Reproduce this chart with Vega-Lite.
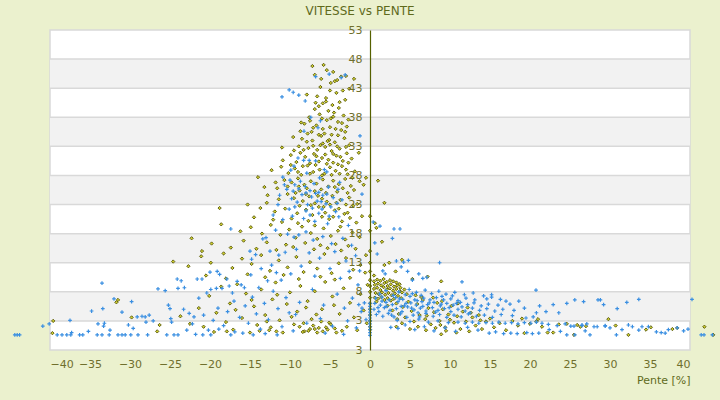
{
  "$schema": "https://vega.github.io/schema/vega-lite/v6.json",
  "width": 640,
  "height": 320,
  "autosize": {"type": "none"},
  "padding": {"left": 50, "top": 30, "right": 30, "bottom": 50},
  "background": "#ebf1ce",
  "title": {"text": "VITESSE vs PENTE", "font": "DejaVu Sans", "fontSize": 12, "fontWeight": "normal", "color": "#5f6a1c", "dx": -10, "offset": 6},
  "config": {
    "view": {"fill": "#ffffff", "stroke": "#d9d9d9", "strokeWidth": 1.5},
    "axis": {"labelFont": "DejaVu Sans", "titleFont": "DejaVu Sans", "labelColor": "#6f6f2c", "titleColor": "#5f6a1c", "labelFontSize": 11, "titleFontSize": 11, "titleFontWeight": "normal", "ticks": false, "grid": false}
  },
  "datasets": {
    "bandes": [{"v": 5.5}, {"v": 15.5}, {"v": 25.5}, {"v": 35.5}, {"v": 45.5}],
    "lignes": [{"v": 3}, {"v": 8}, {"v": 13}, {"v": 18}, {"v": 23}, {"v": 28}, {"v": 33}, {"v": 38}, {"v": 43}, {"v": 48}],
    "jaune": [
      {"p": -7.2, "v": 46.8}, {"p": -5.8, "v": 47.0}, {"p": -5.4, "v": 46.1}, {"p": -6.9, "v": 45.3}, {"p": -3.6, "v": 45.0}, {"p": -3.0, "v": 45.1}, {"p": -2.0, "v": 44.6}, {"p": -4.4, "v": 44.2}, {"p": -4.9, "v": 43.9}, {"p": -4.1, "v": 44.4},
      {"p": -6.2, "v": 43.2}, {"p": -3.4, "v": 42.6}, {"p": -2.6, "v": 42.9}, {"p": -7.9, "v": 41.9}, {"p": -6.6, "v": 41.6}, {"p": -5.5, "v": 41.3}, {"p": -4.2, "v": 42.2}, {"p": -3.1, "v": 41.0}, {"p": -5.9, "v": 40.4}, {"p": -4.7, "v": 40.1}, {"p": -6.4, "v": 39.9}, {"p": -3.8, "v": 40.6},
      {"p": -6.9, "v": 39.4}, {"p": -5.2, "v": 39.1}, {"p": -4.5, "v": 38.8}, {"p": -3.3, "v": 38.3}, {"p": -7.6, "v": 38.0}, {"p": -6.0, "v": 37.8}, {"p": -5.4, "v": 37.5}, {"p": -4.0, "v": 37.2}, {"p": -2.7, "v": 37.6}, {"p": -8.2, "v": 36.9}, {"p": -6.7, "v": 36.6}, {"p": -5.0, "v": 36.3}, {"p": -4.3, "v": 36.0}, {"p": -3.6, "v": 35.8}, {"p": -7.3, "v": 35.5}, {"p": -5.7, "v": 35.2}, {"p": -4.8, "v": 35.0}, {"p": -2.9, "v": 36.4}, {"p": -6.3, "v": 38.5}, {"p": -3.9, "v": 39.6}, {"p": -5.5, "v": 40.7}, {"p": -4.6, "v": 38.1},
      {"p": -9.6, "v": 34.6}, {"p": -8.5, "v": 34.3}, {"p": -7.2, "v": 34.0}, {"p": -6.1, "v": 34.8}, {"p": -5.1, "v": 34.1}, {"p": -4.4, "v": 33.7}, {"p": -3.2, "v": 34.4}, {"p": -2.6, "v": 33.2}, {"p": -8.9, "v": 33.0}, {"p": -7.7, "v": 32.7}, {"p": -6.6, "v": 32.4}, {"p": -5.6, "v": 32.9}, {"p": -4.8, "v": 32.2}, {"p": -3.8, "v": 32.6}, {"p": -2.9, "v": 31.8}, {"p": -9.9, "v": 31.5}, {"p": -8.1, "v": 31.2}, {"p": -7.0, "v": 31.7}, {"p": -6.0, "v": 31.0}, {"p": -5.2, "v": 30.7}, {"p": -4.2, "v": 31.4}, {"p": -3.4, "v": 30.5}, {"p": -2.3, "v": 30.9}, {"p": -9.2, "v": 30.3}, {"p": -7.5, "v": 30.1}, {"p": -6.4, "v": 30.4}, {"p": -4.6, "v": 30.2}, {"p": -5.9, "v": 33.5}, {"p": -4.0, "v": 34.9}, {"p": -7.9, "v": 33.8}, {"p": -1.4, "v": 31.9}, {"p": -11.0, "v": 32.8},
      {"p": -14.0, "v": 27.7}, {"p": -12.3, "v": 28.9}, {"p": -11.1, "v": 29.5}, {"p": -10.2, "v": 28.4}, {"p": -9.4, "v": 29.2}, {"p": -8.6, "v": 28.1}, {"p": -7.8, "v": 29.7}, {"p": -7.1, "v": 28.6}, {"p": -6.3, "v": 29.0}, {"p": -5.7, "v": 28.3}, {"p": -5.0, "v": 29.4}, {"p": -4.3, "v": 28.8}, {"p": -3.5, "v": 29.6}, {"p": -2.8, "v": 28.2}, {"p": -1.9, "v": 28.7}, {"p": -10.7, "v": 27.2}, {"p": -9.8, "v": 26.8}, {"p": -9.0, "v": 27.5}, {"p": -8.2, "v": 26.4}, {"p": -7.4, "v": 27.0}, {"p": -6.7, "v": 26.6}, {"p": -5.9, "v": 27.3}, {"p": -5.2, "v": 26.1}, {"p": -4.6, "v": 27.1}, {"p": -3.9, "v": 26.5}, {"p": -3.1, "v": 27.4}, {"p": -2.4, "v": 26.2}, {"p": -1.3, "v": 27.0}, {"p": -11.6, "v": 25.8}, {"p": -8.8, "v": 25.4}, {"p": -6.1, "v": 25.6}, {"p": -4.1, "v": 25.2}, {"p": -2.0, "v": 25.5}, {"p": -0.8, "v": 26.4}, {"p": -13.2, "v": 26.0},
      {"p": -12.8, "v": 24.6}, {"p": -11.4, "v": 23.9}, {"p": -10.3, "v": 24.8}, {"p": -9.5, "v": 24.1}, {"p": -8.4, "v": 23.6}, {"p": -7.6, "v": 24.4}, {"p": -6.9, "v": 23.2}, {"p": -6.0, "v": 24.0}, {"p": -5.4, "v": 23.5}, {"p": -4.7, "v": 24.5}, {"p": -3.7, "v": 23.8}, {"p": -2.6, "v": 24.2}, {"p": -1.6, "v": 23.1}, {"p": -13.7, "v": 22.4}, {"p": -18.8, "v": 22.4}, {"p": -15.3, "v": 23.0}, {"p": -11.9, "v": 21.8}, {"p": -10.6, "v": 22.3}, {"p": -9.1, "v": 21.5}, {"p": -8.0, "v": 22.1}, {"p": -7.2, "v": 21.2}, {"p": -6.4, "v": 22.6}, {"p": -5.6, "v": 21.6}, {"p": -4.4, "v": 22.0}, {"p": -3.2, "v": 21.4}, {"p": -2.1, "v": 22.8}, {"p": -1.0, "v": 21.0}, {"p": -14.5, "v": 20.8}, {"p": -12.1, "v": 20.4}, {"p": -9.8, "v": 20.6}, {"p": -7.7, "v": 20.2}, {"p": -5.1, "v": 20.5}, {"p": -3.5, "v": 20.1}, {"p": -2.5, "v": 20.7},
      {"p": -8.6, "v": 37.1}, {"p": -7.1, "v": 36.2}, {"p": -5.9, "v": 36.0}, {"p": -4.9, "v": 37.8}, {"p": -3.5, "v": 37.0}, {"p": -7.8, "v": 35.2}, {"p": -6.4, "v": 35.0}, {"p": -5.3, "v": 33.9}, {"p": -3.1, "v": 35.5}, {"p": -8.3, "v": 32.4}, {"p": -7.1, "v": 33.1}, {"p": -6.2, "v": 33.2}, {"p": -5.0, "v": 33.3}, {"p": -4.1, "v": 33.0}, {"p": -3.0, "v": 32.9}, {"p": -8.7, "v": 31.9}, {"p": -6.7, "v": 31.3}, {"p": -5.6, "v": 31.6}, {"p": -4.6, "v": 31.7}, {"p": -3.7, "v": 31.2}, {"p": -2.7, "v": 30.2}, {"p": -8.4, "v": 29.6}, {"p": -6.8, "v": 29.8}, {"p": -5.4, "v": 30.0}, {"p": -4.0, "v": 29.9}, {"p": -3.0, "v": 29.0}, {"p": -9.9, "v": 29.8}, {"p": -9.0, "v": 28.6}, {"p": -7.5, "v": 28.3}, {"p": -6.0, "v": 28.0}, {"p": -4.8, "v": 28.1}, {"p": -3.8, "v": 28.3}, {"p": -2.2, "v": 27.6}, {"p": -10.3, "v": 26.1}, {"p": -8.9, "v": 26.1}, {"p": -7.9, "v": 25.8}, {"p": -6.9, "v": 25.3}, {"p": -5.5, "v": 25.0}, {"p": -4.4, "v": 26.0}, {"p": -3.4, "v": 25.8}, {"p": -2.8, "v": 25.0}, {"p": -9.3, "v": 25.0}, {"p": -8.0, "v": 24.8}, {"p": -6.5, "v": 24.5}, {"p": -5.0, "v": 23.0}, {"p": -4.2, "v": 23.3}, {"p": -3.0, "v": 23.0}, {"p": -8.8, "v": 22.8}, {"p": -7.4, "v": 22.9}, {"p": -5.8, "v": 22.6}, {"p": -3.9, "v": 22.3}, {"p": -2.8, "v": 21.6}, {"p": -6.0, "v": 20.9}, {"p": -4.6, "v": 20.9}, {"p": -9.0, "v": 19.8}, {"p": -6.9, "v": 19.4}, {"p": -3.7, "v": 19.2}, {"p": -1.7, "v": 19.9}, {"p": -11.0, "v": 20.0}, {"p": -12.9, "v": 23.3}, {"p": -11.8, "v": 26.8}, {"p": -10.9, "v": 30.6}, {"p": -9.5, "v": 32.3}, {"p": -8.7, "v": 35.6}, {"p": -7.5, "v": 37.4}, {"p": -6.8, "v": 40.5}, {"p": -5.0, "v": 42.6}, {"p": -6.1, "v": 44.6}, {"p": -4.6, "v": 45.8},
      {"p": -18.6, "v": 19.6}, {"p": -16.2, "v": 18.4}, {"p": -14.9, "v": 19.1}, {"p": -13.5, "v": 18.0}, {"p": -12.4, "v": 19.5}, {"p": -11.2, "v": 17.8}, {"p": -10.1, "v": 18.7}, {"p": -9.3, "v": 17.3}, {"p": -8.5, "v": 19.2}, {"p": -7.4, "v": 18.1}, {"p": -6.6, "v": 17.1}, {"p": -5.8, "v": 18.9}, {"p": -4.9, "v": 17.6}, {"p": -4.0, "v": 18.5}, {"p": -3.1, "v": 17.0}, {"p": -2.2, "v": 18.2}, {"p": -1.3, "v": 17.4}, {"p": -19.8, "v": 16.3}, {"p": -17.4, "v": 15.6}, {"p": -15.8, "v": 16.8}, {"p": -14.2, "v": 15.4}, {"p": -12.9, "v": 16.5}, {"p": -11.7, "v": 15.2}, {"p": -10.5, "v": 16.1}, {"p": -9.6, "v": 15.7}, {"p": -8.1, "v": 16.4}, {"p": -7.0, "v": 15.3}, {"p": -6.2, "v": 16.0}, {"p": -5.3, "v": 15.5}, {"p": -4.3, "v": 16.2}, {"p": -3.6, "v": 15.1}, {"p": -2.7, "v": 15.9}, {"p": -1.8, "v": 15.4}, {"p": -22.3, "v": 17.2}, {"p": -21.0, "v": 15.0},
      {"p": -24.6, "v": 13.2}, {"p": -22.7, "v": 12.4}, {"p": -21.1, "v": 14.1}, {"p": -19.9, "v": 13.0}, {"p": -18.3, "v": 14.6}, {"p": -17.2, "v": 12.1}, {"p": -16.0, "v": 13.7}, {"p": -14.8, "v": 12.8}, {"p": -13.6, "v": 14.3}, {"p": -12.5, "v": 11.6}, {"p": -11.4, "v": 13.4}, {"p": -10.3, "v": 12.2}, {"p": -9.2, "v": 14.0}, {"p": -8.3, "v": 11.4}, {"p": -7.5, "v": 13.1}, {"p": -6.6, "v": 12.0}, {"p": -5.7, "v": 14.5}, {"p": -4.8, "v": 11.2}, {"p": -3.9, "v": 12.9}, {"p": -3.0, "v": 13.8}, {"p": -2.1, "v": 11.8}, {"p": -1.2, "v": 12.6}, {"p": -20.5, "v": 10.8}, {"p": -18.0, "v": 10.3}, {"p": -15.3, "v": 11.0}, {"p": -13.1, "v": 10.5}, {"p": -10.8, "v": 10.9}, {"p": -8.9, "v": 10.2}, {"p": -6.2, "v": 10.6}, {"p": -4.4, "v": 10.1}, {"p": -2.5, "v": 10.4}, {"p": -0.6, "v": 11.3},
      {"p": -39.6, "v": 3.0}, {"p": -39.7, "v": 0.9}, {"p": -31.7, "v": 6.2}, {"p": -31.5, "v": 6.6}, {"p": -29.8, "v": 3.6}, {"p": -26.6, "v": 1.2}, {"p": -26.3, "v": 2.3}, {"p": -23.7, "v": 3.8}, {"p": -22.5, "v": 2.5}, {"p": -21.4, "v": 5.2}, {"p": -20.8, "v": 2.0}, {"p": -20.1, "v": 7.3}, {"p": -19.5, "v": 1.1}, {"p": -19.2, "v": 4.4}, {"p": -18.6, "v": 8.9}, {"p": -18.0, "v": 2.8}, {"p": -17.5, "v": 6.0}, {"p": -17.1, "v": 1.5}, {"p": -16.6, "v": 9.3}, {"p": -16.0, "v": 3.5}, {"p": -15.5, "v": 7.7}, {"p": -15.0, "v": 1.0}, {"p": -14.5, "v": 5.5}, {"p": -14.1, "v": 2.3}, {"p": -13.6, "v": 8.4}, {"p": -13.1, "v": 4.0}, {"p": -12.6, "v": 1.4}, {"p": -12.2, "v": 6.7}, {"p": -11.8, "v": 9.6}, {"p": -11.3, "v": 3.1}, {"p": -10.9, "v": 1.0}, {"p": -10.4, "v": 5.9}, {"p": -10.0, "v": 7.9}, {"p": -9.5, "v": 2.4}, {"p": -9.1, "v": 4.6}, {"p": -8.7, "v": 9.0}, {"p": -8.2, "v": 1.2}, {"p": -7.8, "v": 6.4}, {"p": -7.3, "v": 3.3}, {"p": -6.9, "v": 8.1}, {"p": -6.4, "v": 1.8}, {"p": -6.0, "v": 5.0}, {"p": -5.6, "v": 9.7}, {"p": -5.1, "v": 2.7}, {"p": -4.7, "v": 7.2}, {"p": -4.2, "v": 1.0}, {"p": -3.8, "v": 4.2}, {"p": -3.3, "v": 8.6}, {"p": -2.9, "v": 2.0}, {"p": -2.5, "v": 6.1}, {"p": -2.0, "v": 3.6}, {"p": -1.6, "v": 1.4}, {"p": -1.2, "v": 7.6}, {"p": -0.8, "v": 4.8}, {"p": -0.4, "v": 2.6}, {"p": -14.8, "v": 6.6}, {"p": -11.6, "v": 7.5}, {"p": -8.0, "v": 5.3}, {"p": -6.7, "v": 4.1}, {"p": -4.5, "v": 5.7}, {"p": -9.8, "v": 3.7}, {"p": -12.9, "v": 2.9}, {"p": -16.8, "v": 4.9}, {"p": -17.9, "v": 1.2}, {"p": -7.5, "v": 1.6}, {"p": -3.5, "v": 1.3}, {"p": -5.3, "v": 1.5},
      {"p": -8.8, "v": 2.0}, {"p": -8.3, "v": 2.6}, {"p": -7.7, "v": 1.3}, {"p": -7.1, "v": 2.2}, {"p": -6.6, "v": 1.0}, {"p": -6.1, "v": 2.9}, {"p": -5.5, "v": 1.9}, {"p": -4.9, "v": 2.4}, {"p": -4.4, "v": 1.7}, {"p": -8.4, "v": 1.1}, {"p": -5.9, "v": 1.2}, {"p": -6.9, "v": 1.6}, {"p": -13.8, "v": 1.3}, {"p": -12.4, "v": 1.9}, {"p": -11.7, "v": 1.2},
      {"p": 0, "v": 21.0}, {"p": 0, "v": 18.5}, {"p": 0, "v": 15.0}, {"p": 0, "v": 13.0}, {"p": 0, "v": 11.5}, {"p": 0, "v": 10.0}, {"p": 0, "v": 9.0}, {"p": 0, "v": 8.0}, {"p": 0, "v": 7.0}, {"p": 0, "v": 6.0}, {"p": 0, "v": 5.0}, {"p": 0, "v": 4.0}, {"p": 0, "v": 3.0}, {"p": 0, "v": 2.0}, {"p": 0, "v": 1.5}, {"p": -0.3, "v": 9.2}, {"p": -0.5, "v": 14.3}, {"p": -0.5, "v": 27.6}, {"p": 1.0, "v": 27.1}, {"p": 1.8, "v": 23.3},
      {"p": 0.5, "v": 9.8}, {"p": 0.9, "v": 10.1}, {"p": 1.3, "v": 9.9}, {"p": 1.7, "v": 10.2}, {"p": 2.1, "v": 9.7}, {"p": 2.5, "v": 10.0}, {"p": 2.9, "v": 9.8}, {"p": 3.3, "v": 9.6}, {"p": 3.7, "v": 9.3},
      {"p": 0.6, "v": 9.2}, {"p": 1.0, "v": 9.4}, {"p": 1.4, "v": 9.1}, {"p": 1.8, "v": 9.5}, {"p": 2.2, "v": 9.0}, {"p": 2.6, "v": 9.3}, {"p": 3.0, "v": 8.9}, {"p": 3.4, "v": 9.1}, {"p": 3.8, "v": 8.7},
      {"p": 0.5, "v": 8.5}, {"p": 0.9, "v": 8.7}, {"p": 1.3, "v": 8.3}, {"p": 1.7, "v": 8.8}, {"p": 2.1, "v": 8.4}, {"p": 2.5, "v": 8.6}, {"p": 2.9, "v": 8.2}, {"p": 3.3, "v": 8.5}, {"p": 3.7, "v": 8.1},
      {"p": 0.7, "v": 7.8}, {"p": 1.1, "v": 7.6}, {"p": 1.5, "v": 7.9}, {"p": 1.9, "v": 7.5}, {"p": 2.3, "v": 7.8}, {"p": 2.7, "v": 7.4}, {"p": 3.1, "v": 7.7}, {"p": 3.5, "v": 7.3}, {"p": 4.0, "v": 7.9},
      {"p": 0.6, "v": 7.0}, {"p": 1.0, "v": 6.8}, {"p": 1.4, "v": 7.1}, {"p": 1.8, "v": 6.6}, {"p": 2.2, "v": 6.9}, {"p": 2.6, "v": 6.5}, {"p": 3.0, "v": 6.8}, {"p": 0.8, "v": 6.3}, {"p": 4.3, "v": 8.4}, {"p": 4.6, "v": 7.6},
      {"p": 2.2, "v": 5.6}, {"p": 2.8, "v": 4.8}, {"p": 3.3, "v": 6.0}, {"p": 3.6, "v": 4.2}, {"p": 4.1, "v": 5.4}, {"p": 4.4, "v": 3.6}, {"p": 4.8, "v": 6.3}, {"p": 5.2, "v": 4.7}, {"p": 5.5, "v": 2.9}, {"p": 5.9, "v": 5.9}, {"p": 6.2, "v": 4.0}, {"p": 6.6, "v": 6.6}, {"p": 6.9, "v": 3.3}, {"p": 7.3, "v": 5.2}, {"p": 7.6, "v": 2.4}, {"p": 8.0, "v": 4.5}, {"p": 8.4, "v": 6.1}, {"p": 8.7, "v": 3.0}, {"p": 9.1, "v": 5.0}, {"p": 9.4, "v": 1.9}, {"p": 9.8, "v": 4.1}, {"p": 10.2, "v": 5.6}, {"p": 10.5, "v": 2.7}, {"p": 10.9, "v": 3.8}, {"p": 11.3, "v": 1.6}, {"p": 11.6, "v": 4.6}, {"p": 12.0, "v": 2.9}, {"p": 12.4, "v": 1.2}, {"p": 12.8, "v": 3.6}, {"p": 13.2, "v": 2.2}, {"p": 13.6, "v": 4.0}, {"p": 14.0, "v": 1.6}, {"p": 14.5, "v": 2.9}, {"p": 15.0, "v": 3.4}, {"p": 15.5, "v": 1.9}, {"p": 4.0, "v": 2.6}, {"p": 5.0, "v": 1.6}, {"p": 6.0, "v": 2.0}, {"p": 7.0, "v": 1.4}, {"p": 8.2, "v": 1.8}, {"p": 9.5, "v": 1.3}, {"p": 10.8, "v": 1.0}, {"p": 3.4, "v": 3.3}, {"p": 6.4, "v": 7.1}, {"p": 7.9, "v": 7.0}, {"p": 9.0, "v": 6.4}, {"p": 11.0, "v": 6.0}, {"p": 12.2, "v": 5.3}, {"p": 5.7, "v": 7.4}, {"p": 3.9, "v": 6.9}, {"p": 10.0, "v": 3.2}, {"p": 8.8, "v": 2.3}, {"p": 7.1, "v": 3.9}, {"p": 12.6, "v": 4.4}, {"p": 13.8, "v": 3.1}, {"p": 3.3, "v": 2.0}, {"p": 8.9, "v": 0.7},
      {"p": 16.2, "v": 2.6}, {"p": 17.0, "v": 1.4}, {"p": 17.8, "v": 3.0}, {"p": 18.5, "v": 2.2}, {"p": 19.3, "v": 0.9}, {"p": 20.0, "v": 2.5}, {"p": 20.8, "v": 2.9}, {"p": 21.5, "v": 2.0}, {"p": 22.2, "v": 1.0}, {"p": 22.9, "v": 1.0}, {"p": 23.6, "v": 2.4}, {"p": 24.6, "v": 2.5}, {"p": 25.5, "v": 0.6}, {"p": 26.3, "v": 2.0}, {"p": 27.0, "v": 2.1}, {"p": 29.8, "v": 3.3}, {"p": 30.7, "v": 2.2}, {"p": 32.3, "v": 0.6}, {"p": 34.5, "v": 1.5}, {"p": 35.1, "v": 1.9}, {"p": 37.8, "v": 1.6}, {"p": 38.4, "v": 1.8}, {"p": 41.8, "v": 2.0}, {"p": 42.9, "v": 0.6}, {"p": 19.0, "v": 3.4}, {"p": 21.0, "v": 3.3}, {"p": 25.9, "v": 2.3},
      {"p": 1.8, "v": 12.6}, {"p": 2.4, "v": 13.0}, {"p": 4.0, "v": 13.5}, {"p": 3.2, "v": 11.5}, {"p": 7.2, "v": 10.6}, {"p": 8.9, "v": 9.8}, {"p": 5.3, "v": 10.2}, {"p": 0.6, "v": 19.8}, {"p": 0.8, "v": 19.0}, {"p": 1.5, "v": 16.6}, {"p": 0.5, "v": 10.8}
    ],
    "bleu": [
      {"p": -44.4, "v": 0.6}, {"p": -44.1, "v": 0.6}, {"p": -43.8, "v": 0.6}, {"p": -40.9, "v": 2.1}, {"p": -40.1, "v": 2.5}, {"p": -39.1, "v": 0.6}, {"p": -38.5, "v": 0.6}, {"p": -37.9, "v": 0.6}, {"p": -37.4, "v": 0.6}, {"p": -37.3, "v": 1.0}, {"p": -37.5, "v": 3.1}, {"p": -36.3, "v": 0.6}, {"p": -35.9, "v": 0.6}, {"p": -34.1, "v": 0.6}, {"p": -33.5, "v": 0.6}, {"p": -32.6, "v": 0.6}, {"p": -31.5, "v": 0.6}, {"p": -31.0, "v": 0.6}, {"p": -30.6, "v": 0.6}, {"p": -29.9, "v": 0.6}, {"p": -29.0, "v": 0.6}, {"p": -27.8, "v": 0.6}, {"p": -25.4, "v": 0.6}, {"p": -24.5, "v": 0.6}, {"p": -24.0, "v": 0.6}, {"p": -34.8, "v": 4.7}, {"p": -33.5, "v": 9.5}, {"p": -33.4, "v": 5.1}, {"p": -32.0, "v": 6.8}, {"p": -34.0, "v": 2.5}, {"p": -33.3, "v": 2.1}, {"p": -33.2, "v": 2.6}, {"p": -31.0, "v": 4.5}, {"p": -30.2, "v": 2.3}, {"p": -29.8, "v": 6.3}, {"p": -29.6, "v": 1.7}, {"p": -29.1, "v": 3.7}, {"p": -28.5, "v": 3.8}, {"p": -28.1, "v": 3.7}, {"p": -27.6, "v": 4.0}, {"p": -28.0, "v": 2.8}, {"p": -27.1, "v": 3.0}, {"p": -26.5, "v": 8.5}, {"p": -25.6, "v": 8.2}, {"p": -25.2, "v": 5.7}, {"p": -25.0, "v": 5.1}, {"p": -24.9, "v": 3.4}, {"p": -24.8, "v": 2.8}, {"p": -35.2, "v": 1.2}, {"p": -32.5, "v": 1.4},
      {"p": -24.1, "v": 10.2}, {"p": -23.6, "v": 9.9}, {"p": -24.0, "v": 8.6}, {"p": -23.2, "v": 8.7}, {"p": -21.6, "v": 10.2}, {"p": -21.0, "v": 10.2}, {"p": -20.0, "v": 11.4}, {"p": -19.1, "v": 11.5}, {"p": -18.8, "v": 11.0}, {"p": -17.4, "v": 18.8}, {"p": -17.9, "v": 10.2}, {"p": -17.6, "v": 9.0}, {"p": -17.2, "v": 7.8}, {"p": -17.0, "v": 6.4}, {"p": -16.6, "v": 9.8}, {"p": -16.1, "v": 9.2}, {"p": -15.7, "v": 8.7}, {"p": -15.0, "v": 15.0}, {"p": -14.8, "v": 13.6}, {"p": -14.3, "v": 14.4}, {"p": -13.4, "v": 17.1}, {"p": -13.0, "v": 17.3}, {"p": -12.5, "v": 15.0}, {"p": -11.4, "v": 14.3}, {"p": -10.6, "v": 14.8}, {"p": -12.3, "v": 12.6}, {"p": -11.7, "v": 11.3}, {"p": -11.1, "v": 10.0}, {"p": -9.5, "v": 17.4}, {"p": -8.9, "v": 17.8}, {"p": -23.3, "v": 5.0}, {"p": -22.6, "v": 4.3}, {"p": -22.0, "v": 3.7}, {"p": -22.2, "v": 2.5}, {"p": -21.4, "v": 6.9}, {"p": -20.4, "v": 7.8}, {"p": -19.9, "v": 8.4}, {"p": -19.2, "v": 8.6}, {"p": -18.5, "v": 8.6}, {"p": -20.8, "v": 4.0}, {"p": -20.2, "v": 1.4}, {"p": -19.6, "v": 3.1}, {"p": -19.0, "v": 5.2}, {"p": -18.3, "v": 2.2}, {"p": -17.8, "v": 4.6}, {"p": -16.9, "v": 1.1}, {"p": -16.3, "v": 3.6}, {"p": -15.6, "v": 5.6}, {"p": -15.2, "v": 2.6}, {"p": -14.7, "v": 7.1}, {"p": -14.2, "v": 4.2}, {"p": -13.7, "v": 1.6}, {"p": -13.2, "v": 6.0}, {"p": -12.7, "v": 3.2}, {"p": -12.1, "v": 8.1}, {"p": -11.5, "v": 5.1}, {"p": -11.0, "v": 2.0}, {"p": -10.5, "v": 7.0}, {"p": -10.1, "v": 4.4}, {"p": -21.8, "v": 0.7}, {"p": -20.9, "v": 0.6}, {"p": -19.9, "v": 0.6}, {"p": -18.9, "v": 1.6}, {"p": -17.4, "v": 0.6}, {"p": -15.9, "v": 0.9}, {"p": -14.6, "v": 0.6}, {"p": -13.1, "v": 0.8}, {"p": -11.6, "v": 0.6}, {"p": -22.9, "v": 1.4},
      {"p": -10.1, "v": 42.7}, {"p": -9.6, "v": 42.3}, {"p": -8.9, "v": 41.8}, {"p": -11.0, "v": 41.5}, {"p": -8.1, "v": 40.8}, {"p": -6.8, "v": 45.0}, {"p": -5.1, "v": 45.4}, {"p": -3.6, "v": 44.8}, {"p": -3.1, "v": 45.3}, {"p": -1.25, "v": 34.8}, {"p": -1.0, "v": 24.8}, {"p": -6.5, "v": 36.2}, {"p": -8.25, "v": 35.6}, {"p": -7.4, "v": 38.0}, {"p": -6.2, "v": 37.4}, {"p": -9.0, "v": 31.0}, {"p": -8.3, "v": 30.6}, {"p": -9.5, "v": 29.6}, {"p": -7.6, "v": 30.6}, {"p": -6.8, "v": 30.5}, {"p": -5.7, "v": 29.0}, {"p": -5.4, "v": 28.6}, {"p": -10.9, "v": 27.7}, {"p": -10.0, "v": 27.2}, {"p": -9.4, "v": 26.4}, {"p": -8.7, "v": 27.0}, {"p": -8.1, "v": 26.1}, {"p": -7.5, "v": 25.4}, {"p": -7.0, "v": 26.6}, {"p": -6.4, "v": 25.1}, {"p": -5.9, "v": 24.6}, {"p": -5.2, "v": 26.0}, {"p": -4.6, "v": 24.2}, {"p": -4.0, "v": 25.6}, {"p": -3.5, "v": 23.8}, {"p": -9.8, "v": 24.0}, {"p": -9.1, "v": 23.4}, {"p": -8.5, "v": 24.7}, {"p": -7.8, "v": 23.0}, {"p": -7.2, "v": 22.4}, {"p": -6.6, "v": 23.6}, {"p": -6.0, "v": 22.2}, {"p": -5.5, "v": 23.1}, {"p": -4.9, "v": 22.6}, {"p": -4.3, "v": 21.8}, {"p": -10.4, "v": 25.6}, {"p": -11.5, "v": 23.0}, {"p": -12.1, "v": 21.2}, {"p": -10.9, "v": 20.4}, {"p": -9.7, "v": 21.0}, {"p": -8.3, "v": 20.6}, {"p": -6.9, "v": 20.1}, {"p": -5.3, "v": 19.7}, {"p": -3.9, "v": 20.9}, {"p": -2.7, "v": 19.4}, {"p": -11.8, "v": 18.6}, {"p": -10.3, "v": 17.9}, {"p": -8.0, "v": 18.3}, {"p": -7.1, "v": 16.9}, {"p": -5.9, "v": 17.5}, {"p": -4.8, "v": 16.3}, {"p": -3.4, "v": 17.2}, {"p": -2.3, "v": 16.0}, {"p": -9.2, "v": 15.3}, {"p": -7.6, "v": 14.7}, {"p": -6.3, "v": 13.8}, {"p": -4.4, "v": 14.9}, {"p": -3.0, "v": 13.3}, {"p": -1.8, "v": 14.2}, {"p": -8.6, "v": 12.4}, {"p": -5.0, "v": 12.0}, {"p": -2.6, "v": 11.5}, {"p": -9.9, "v": 11.1}, {"p": -6.9, "v": 10.7}, {"p": -3.7, "v": 10.3}, {"p": -1.5, "v": 9.2}, {"p": -7.2, "v": 8.4}, {"p": -4.1, "v": 7.6}, {"p": -2.2, "v": 6.9}, {"p": -8.8, "v": 6.2}, {"p": -5.8, "v": 5.7}, {"p": -3.2, "v": 5.2}, {"p": -1.1, "v": 4.6}, {"p": -9.3, "v": 4.1}, {"p": -6.2, "v": 3.4}, {"p": -2.8, "v": 3.0}, {"p": -7.9, "v": 2.6}, {"p": -4.7, "v": 2.1}, {"p": -1.7, "v": 1.8}, {"p": -9.6, "v": 1.3}, {"p": -5.6, "v": 0.9}, {"p": -3.3, "v": 0.7}, {"p": -0.7, "v": 6.1}, {"p": -0.5, "v": 3.2}, {"p": -1.3, "v": 11.6}, {"p": -13.6, "v": 12.0}, {"p": -14.9, "v": 10.9}, {"p": -13.9, "v": 8.7}, {"p": -12.8, "v": 9.9}, {"p": -1.0, "v": 5.2}, {"p": -1.4, "v": 5.8},
      {"p": -10.7, "v": 26.4}, {"p": -9.6, "v": 25.3}, {"p": -8.9, "v": 25.7}, {"p": -8.0, "v": 25.0}, {"p": -7.3, "v": 24.3}, {"p": -6.8, "v": 24.9}, {"p": -6.1, "v": 23.5}, {"p": -5.4, "v": 24.8}, {"p": -9.4, "v": 22.6}, {"p": -8.0, "v": 21.9}, {"p": -7.5, "v": 21.2}, {"p": -6.4, "v": 21.5}, {"p": -5.1, "v": 21.0}, {"p": -10.1, "v": 22.2}, {"p": -11.3, "v": 24.6}, {"p": -4.1, "v": 23.2}, {"p": -3.8, "v": 26.8}, {"p": -9.9, "v": 28.9}, {"p": -7.9, "v": 28.4}, {"p": -6.3, "v": 27.6},
      {"p": 0, "v": 6.0}, {"p": 0, "v": 5.5}, {"p": 0, "v": 5.0}, {"p": 0, "v": 4.5}, {"p": 0, "v": 4.0}, {"p": 0, "v": 3.5}, {"p": 0, "v": 3.0}, {"p": 0, "v": 2.5}, {"p": 0, "v": 2.0}, {"p": 0, "v": 1.5}, {"p": 0, "v": 1.0}, {"p": 0, "v": 0.5},
      {"p": 0.4, "v": 20.0}, {"p": 1.25, "v": 19.3}, {"p": 3.0, "v": 18.8}, {"p": 3.75, "v": 18.8}, {"p": 2.8, "v": 17.2}, {"p": 0.6, "v": 16.4}, {"p": 0.9, "v": 14.5}, {"p": 3.3, "v": 13.3}, {"p": 4.8, "v": 13.4}, {"p": 8.7, "v": 13.0}, {"p": 4.7, "v": 11.5}, {"p": 6.1, "v": 11.1}, {"p": 6.6, "v": 10.3}, {"p": 7.1, "v": 10.5}, {"p": 11.5, "v": 9.7}, {"p": 1.9, "v": 11.1}, {"p": 3.9, "v": 12.3}, {"p": 1.6, "v": 11.6}, {"p": 5.3, "v": 10.0}, {"p": 4.2, "v": 13.1},
      {"p": 2.0, "v": 8.2}, {"p": 3.6, "v": 8.0}, {"p": 4.9, "v": 8.4}, {"p": 5.8, "v": 7.9}, {"p": 6.9, "v": 8.3}, {"p": 7.7, "v": 7.7}, {"p": 8.6, "v": 8.1}, {"p": 9.5, "v": 7.6}, {"p": 10.6, "v": 7.9}, {"p": 11.8, "v": 7.5}, {"p": 12.9, "v": 7.8}, {"p": 14.2, "v": 7.3}, {"p": 1.2, "v": 7.6}, {"p": 2.9, "v": 7.4},
      {"p": 0.7, "v": 6.9}, {"p": 1.5, "v": 7.1}, {"p": 2.4, "v": 6.6}, {"p": 3.2, "v": 7.0}, {"p": 4.1, "v": 6.7}, {"p": 5.0, "v": 7.2}, {"p": 5.9, "v": 6.5}, {"p": 6.7, "v": 6.9}, {"p": 7.5, "v": 6.6}, {"p": 8.3, "v": 7.0}, {"p": 9.2, "v": 6.6}, {"p": 10.1, "v": 6.8}, {"p": 11.0, "v": 6.5}, {"p": 12.0, "v": 6.9}, {"p": 13.1, "v": 6.6}, {"p": 14.6, "v": 6.8}, {"p": 15.2, "v": 7.5}, {"p": 15.2, "v": 7.1}, {"p": 16.3, "v": 6.7}, {"p": 17.0, "v": 6.4},
      {"p": 0.6, "v": 6.0}, {"p": 1.3, "v": 5.7}, {"p": 2.0, "v": 6.2}, {"p": 2.8, "v": 5.8}, {"p": 3.5, "v": 6.3}, {"p": 4.3, "v": 5.6}, {"p": 5.1, "v": 6.1}, {"p": 5.8, "v": 5.7}, {"p": 6.5, "v": 6.3}, {"p": 7.2, "v": 5.8}, {"p": 8.0, "v": 6.2}, {"p": 8.8, "v": 5.6}, {"p": 9.6, "v": 6.0}, {"p": 10.4, "v": 5.7}, {"p": 11.3, "v": 6.2}, {"p": 12.2, "v": 5.8}, {"p": 13.0, "v": 6.1}, {"p": 13.9, "v": 5.6}, {"p": 14.8, "v": 5.9}, {"p": 16.0, "v": 5.7}, {"p": 17.5, "v": 5.9}, {"p": 18.6, "v": 6.4}, {"p": 19.3, "v": 5.2},
      {"p": 0.5, "v": 5.0}, {"p": 1.1, "v": 4.6}, {"p": 1.8, "v": 5.3}, {"p": 2.5, "v": 4.8}, {"p": 3.3, "v": 5.1}, {"p": 4.0, "v": 4.6}, {"p": 4.7, "v": 5.4}, {"p": 5.5, "v": 4.9}, {"p": 6.3, "v": 5.2}, {"p": 7.0, "v": 4.7}, {"p": 7.8, "v": 5.3}, {"p": 8.5, "v": 4.8}, {"p": 9.3, "v": 5.1}, {"p": 10.1, "v": 4.6}, {"p": 11.0, "v": 5.0}, {"p": 11.9, "v": 4.7}, {"p": 12.8, "v": 5.2}, {"p": 13.7, "v": 4.8}, {"p": 14.6, "v": 5.1}, {"p": 15.6, "v": 4.7}, {"p": 16.6, "v": 5.0}, {"p": 18.0, "v": 4.8}, {"p": 20.8, "v": 4.4}, {"p": 22.0, "v": 4.6},
      {"p": 0.8, "v": 4.1}, {"p": 1.6, "v": 3.8}, {"p": 2.3, "v": 4.3}, {"p": 3.0, "v": 3.7}, {"p": 3.8, "v": 4.2}, {"p": 4.6, "v": 3.6}, {"p": 5.4, "v": 4.0}, {"p": 6.2, "v": 3.7}, {"p": 7.0, "v": 4.3}, {"p": 7.9, "v": 3.8}, {"p": 8.7, "v": 4.1}, {"p": 9.6, "v": 3.6}, {"p": 10.5, "v": 4.0}, {"p": 11.4, "v": 3.7}, {"p": 12.3, "v": 4.2}, {"p": 13.3, "v": 3.8}, {"p": 14.3, "v": 4.0}, {"p": 15.3, "v": 3.6}, {"p": 16.4, "v": 4.1}, {"p": 17.8, "v": 3.9}, {"p": 19.5, "v": 3.5},
      {"p": 3.4, "v": 3.1}, {"p": 5.0, "v": 2.9}, {"p": 6.1, "v": 3.3}, {"p": 7.3, "v": 2.8}, {"p": 8.5, "v": 3.0}, {"p": 9.8, "v": 2.7}, {"p": 11.0, "v": 2.8}, {"p": 11.9, "v": 2.6}, {"p": 12.8, "v": 2.8}, {"p": 13.6, "v": 2.6}, {"p": 14.5, "v": 2.7}, {"p": 15.3, "v": 2.6}, {"p": 16.1, "v": 2.8}, {"p": 16.9, "v": 2.6}, {"p": 17.7, "v": 2.7}, {"p": 18.5, "v": 2.5}, {"p": 19.3, "v": 2.7}, {"p": 20.1, "v": 2.6}, {"p": 20.8, "v": 2.8}, {"p": 21.5, "v": 2.6}, {"p": 22.3, "v": 2.4}, {"p": 23.4, "v": 2.2}, {"p": 24.4, "v": 2.5}, {"p": 25.5, "v": 2.1}, {"p": 26.5, "v": 2.2}, {"p": 27.1, "v": 2.5}, {"p": 28.4, "v": 2.0}, {"p": 29.4, "v": 2.1},
      {"p": 2.6, "v": 1.9}, {"p": 3.5, "v": 1.7}, {"p": 4.4, "v": 2.3}, {"p": 5.6, "v": 1.5}, {"p": 6.8, "v": 2.0}, {"p": 8.0, "v": 1.3}, {"p": 9.4, "v": 1.8}, {"p": 10.7, "v": 1.2}, {"p": 12.2, "v": 1.9}, {"p": 13.5, "v": 1.4}, {"p": 14.9, "v": 0.9}, {"p": 15.7, "v": 1.1}, {"p": 16.7, "v": 0.8}, {"p": 17.6, "v": 0.9}, {"p": 18.4, "v": 0.8}, {"p": 19.6, "v": 1.0}, {"p": 20.3, "v": 0.8}, {"p": 21.1, "v": 0.9}, {"p": 22.4, "v": 1.5}, {"p": 23.8, "v": 1.2}, {"p": 25.6, "v": 0.6}, {"p": 27.5, "v": 0.6},
      {"p": 3.9, "v": 5.5}, {"p": 4.5, "v": 6.0}, {"p": 5.2, "v": 5.2}, {"p": 5.6, "v": 6.6}, {"p": 6.0, "v": 4.4}, {"p": 6.6, "v": 5.5}, {"p": 7.4, "v": 6.1}, {"p": 8.2, "v": 4.5}, {"p": 8.9, "v": 5.9}, {"p": 9.9, "v": 5.3}, {"p": 10.8, "v": 6.0}, {"p": 11.5, "v": 5.4}, {"p": 12.5, "v": 4.4}, {"p": 2.1, "v": 5.5}, {"p": 1.0, "v": 5.3}, {"p": 1.5, "v": 6.4}, {"p": 2.7, "v": 4.0}, {"p": 3.7, "v": 6.8}, {"p": 4.4, "v": 7.5}, {"p": 9.0, "v": 7.2}, {"p": 10.3, "v": 7.3}, {"p": 6.4, "v": 7.4}, {"p": 5.3, "v": 7.7},
      {"p": 20.75, "v": 8.3}, {"p": 25.6, "v": 6.6}, {"p": 26.7, "v": 6.3}, {"p": 28.5, "v": 6.6}, {"p": 28.8, "v": 6.6}, {"p": 29.2, "v": 5.8}, {"p": 30.9, "v": 5.1}, {"p": 32.1, "v": 6.2}, {"p": 33.6, "v": 6.7}, {"p": 40.25, "v": 6.7}, {"p": 22.9, "v": 5.8}, {"p": 24.6, "v": 6.0}, {"p": 23.6, "v": 4.4}, {"p": 21.2, "v": 5.6}, {"p": 20.4, "v": 3.7},
      {"p": 39.75, "v": 1.6}, {"p": 39.2, "v": 1.3}, {"p": 36.9, "v": 0.9}, {"p": 36.4, "v": 1.0}, {"p": 35.8, "v": 1.1}, {"p": 37.3, "v": 1.5}, {"p": 34.8, "v": 2.0}, {"p": 34.0, "v": 2.0}, {"p": 32.3, "v": 2.3}, {"p": 32.8, "v": 2.0}, {"p": 30.8, "v": 0.6}, {"p": 31.5, "v": 1.5}, {"p": 29.4, "v": 2.2}, {"p": 28.0, "v": 2.0}, {"p": 26.5, "v": 2.3}, {"p": 25.1, "v": 2.1}, {"p": 41.4, "v": 0.6}, {"p": 41.75, "v": 0.6}, {"p": 42.8, "v": 0.6}, {"p": 24.6, "v": 0.6}, {"p": 33.6, "v": 1.4}, {"p": 38.4, "v": 1.8}, {"p": 26.9, "v": 1.3}, {"p": 30.0, "v": 1.8}
    ]
  },
  "encoding": {
    "y": {
      "field": "v", "type": "quantitative",
      "scale": {"domain": [-2, 53], "nice": false, "zero": false},
      "axis": {"values": [-2, 3, 8, 13, 18, 23, 28, 33, 38, 43, 48, 53], "labelExpr": "datum.value == -2 ? '3' : datum.label", "offset": -320, "zindex": 1, "domain": true, "domainColor": "#556000", "domainWidth": 1.2, "labelPadding": 8, "title": null}
    }
  },
  "layer": [
    {
      "data": {"name": "bandes"},
      "mark": {"type": "rule", "color": "#f2f2f2", "strokeWidth": 29.1, "strokeCap": "butt"},
      "encoding": {}
    },
    {
      "data": {"name": "lignes"},
      "mark": {"type": "rule", "color": "#d9d9d9", "strokeWidth": 1.5},
      "encoding": {}
    },
    {
      "data": {"name": "jaune"},
      "mark": {"type": "point", "shape": "diamond", "size": 11, "filled": true, "fill": "#cfcf30", "stroke": "#565608", "strokeWidth": 0.9, "opacity": 1},
      "encoding": {
        "x": {
          "field": "p", "type": "quantitative",
          "scale": {"domain": [-40, 40], "nice": false, "zero": false},
          "axis": {"values": [-40, -35, -30, -25, -20, -15, -10, -5, 0, 5, 10, 15, 20, 25, 30, 35, 40], "domain": false, "labelPadding": 8, "title": "Pente [%]", "titleAnchor": "end", "titlePadding": 5}
        }
      }
    },
    {
      "data": {"name": "bleu"},
      "mark": {"type": "point", "shape": "M-1,0H1M0,-1V1", "size": 14, "filled": false, "stroke": "#3a8fe2", "strokeWidth": 1.2, "opacity": 1},
      "encoding": {
        "x": {
          "field": "p", "type": "quantitative",
          "scale": {"domain": [-40, 40], "nice": false, "zero": false},
          "axis": {"values": [-40, -35, -30, -25, -20, -15, -10, -5, 0, 5, 10, 15, 20, 25, 30, 35, 40], "domain": false, "labelPadding": 8, "title": "Pente [%]", "titleAnchor": "end", "titlePadding": 5}
        }
      }
    }
  ]
}
